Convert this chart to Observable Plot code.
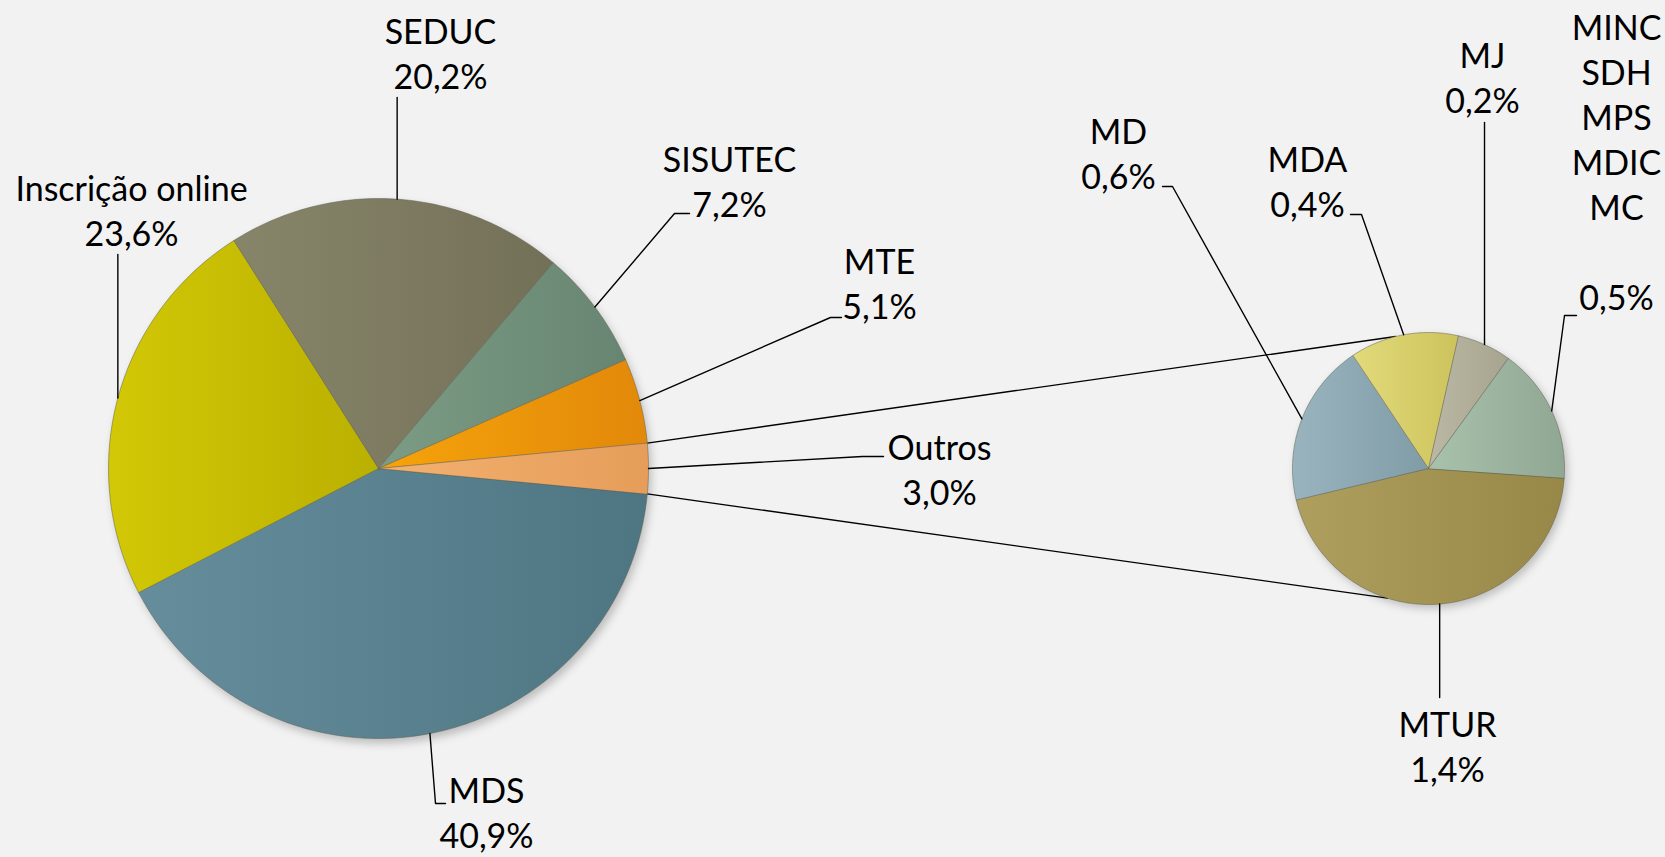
<!DOCTYPE html>
<html>
<head>
<meta charset="utf-8">
<script src="https://cdn.jsdelivr.net/npm/d3@7"></script>
<script src="https://cdn.jsdelivr.net/npm/@observablehq/plot@0.6"></script>
<style>
  html, body { margin: 0; padding: 0; background: #f2f2f2; }
  #chart svg { display: block; }
</style>
</head>
<body>
<div id="chart"></div>
<script>
// ---------- DATA ----------
const mainCategories = ["MDS", "Inscrição online", "SEDUC", "SISUTEC", "MTE", "Outros"];
const mainValues = [40.9, 23.6, 20.2, 7.2, 5.1, 3.0];
const otherCategories = ["MTUR", "MD", "MDA", "MJ", "MINC\nSDH\nMPS\nMDIC\nMC"];
const otherValues = [1.4, 0.6, 0.4, 0.2, 0.5];

// ---------- STYLE (colour pairs: light left -> dark right) ----------
const mainColors = [["#658d9b", "#4e7582"], ["#d2c806", "#bab000"], ["#878569", "#737058"],
                    ["#7c9c86", "#678570"], ["#f6a30b", "#e2890a"], ["#f3b170", "#e69d5a"]];
const otherColors = [["#ae9f5e", "#978848"], ["#99b4be", "#809ca7"], ["#e2da7a", "#cdc35d"],
                     ["#bbb9a5", "#a6a38e"], ["#a9c2ac", "#90a793"]];

// ---------- LAYOUT ----------
const W = 1665, H = 857;
const mainPie = {cx: 378, cy: 468, r: 270, start: 95.4};
const otherPie = {cx: 1428, cy: 468, r: 136, start: 94};
// label block centres and leader-line elbows (null x => vertical from slice)
const mainLayout = [
  {x: 486, y: 811, path: [[435, 803], [445, 803]]},
  {x: 131, y: 209, path: [[null, 254]]},
  {x: 440, y: 52,  path: [[null, 97]]},
  {x: 729, y: 180, path: [[674, 213], [689, 213]]},
  {x: 879, y: 282, path: [[830, 317], [841, 317]]},
  {x: 939, y: 468, path: [[862, 456], [883, 456]]}
];
const otherLayout = [
  {x: 1447, y: 745, path: [[null, 697]]},
  {x: 1118, y: 152, path: [[1172, 186], [1162, 186]]},
  {x: 1307, y: 180, path: [[1361, 214], [1350, 214]]},
  {x: 1482, y: 76,  path: [[null, 122]]},
  {x: 1616, y: 160, path: [[1564, 315], [1576, 315]], gap: true}
];
const seriesLineAngles = [346, 197.6]; // where the connector lines meet the second pie

// ---------- GEOMETRY ----------
const fmt = v => d3.format(".1f")(v).replace(".", ",") + "%";
const rad = a => a * Math.PI / 180;
const pt = (p, a, r = p.r) => [p.cx + r * Math.sin(rad(a)), p.cy - r * Math.cos(rad(a))];

function buildPie(cats, vals, pie, layout, prefix) {
  const total = d3.sum(vals);
  let a = pie.start;
  const slices = [], leaders = [], labels = [];
  cats.forEach((c, i) => {
    const span = vals[i] / total * 360;
    const a0 = a, a1 = a + span, mid = a + span / 2;
    const pts = [{x: pie.cx, y: pie.cy}];
    const n = Math.max(4, Math.ceil(span));
    for (let k = 0; k <= n; k++) {
      const [x, y] = pt(pie, a0 + span * k / n);
      pts.push({x, y});
    }
    slices.push({id: prefix + i, pts, a0, a1});
    const [sx, sy] = pt(pie, mid);
    const L = layout[i];
    const line = [{x: sx, y: sy, k: prefix + i}];
    L.path.forEach(([x, y]) => line.push({x: x == null ? sx : x, y, k: prefix + i}));
    leaders.push(...line);
    labels.push({x: L.x, y: L.y, text: c + (L.gap ? "\n\u00a0" : "") + "\n" + fmt(vals[i])});
    a = a1;
  });
  return {slices, leaders, labels};
}

const main = buildPie(mainCategories, mainValues, mainPie, mainLayout, "m");
const other = buildPie(otherCategories, otherValues, otherPie, otherLayout, "o");

// connector lines: edges of "Outros" slice -> second pie
const outros = main.slices[main.slices.length - 1];
const [tx0, ty0] = pt(mainPie, outros.a0);
const [bx0, by0] = pt(mainPie, outros.a1);
const [tx1, ty1] = pt(otherPie, seriesLineAngles[0]);
const [bx1, by1] = pt(otherPie, seriesLineAngles[1]);
const connectors = [
  {x: tx0, y: ty0, k: "top"}, {x: tx1, y: ty1, k: "top"},
  {x: bx0, y: by0, k: "bot"}, {x: bx1, y: by1, k: "bot"}
];

const allColors = [...mainColors, ...otherColors];
const allSlices = [...main.slices, ...other.slices];

const sliceMarks = allSlices.map((s, i) =>
  Plot.line(s.pts, {x: "x", y: "y", curve: "linear-closed",
    fill: `url(#grad-${s.id})`, stroke: "#5d5d50", strokeOpacity: 0.55, strokeWidth: 0.9})
);

const font = "Lato, 'Open Sans', sans-serif";

const chart = Plot.plot({
  width: W, height: H, margin: 0,
  x: {domain: [0, W], range: [0, W], axis: null},
  y: {domain: [0, H], range: [0, H], axis: null},
  style: {background: "#f2f2f2", fontFamily: font},
  marks: [
    Plot.dot([{x: mainPie.cx + 3, y: mainPie.cy + 5}], {x: "x", y: "y", r: mainPie.r, fill: "#000", fillOpacity: 0.22, stroke: null}),
    Plot.dot([{x: otherPie.cx + 3, y: otherPie.cy + 4}], {x: "x", y: "y", r: otherPie.r, fill: "#000", fillOpacity: 0.22, stroke: null}),
    Plot.line(connectors, {x: "x", y: "y", z: "k", stroke: "#000", strokeWidth: 1.4}),
    ...sliceMarks,
    Plot.line([...main.leaders, ...other.leaders], {x: "x", y: "y", z: "k", stroke: "#000", strokeWidth: 1.4}),
    Plot.text([...main.labels, ...other.labels], {x: "x", y: "y", text: "text",
      fontSize: 34, lineHeight: 1.32, textAnchor: "middle", lineAnchor: "middle",
      fill: "#000", fontFamily: font})
  ]
});

// gradients + soft shadow
const defs = [`<filter id="soft" x="-10%" y="-10%" width="120%" height="120%"><feGaussianBlur stdDeviation="4"/></filter>`];
allSlices.forEach((s, i) => {
  const [c0, c1] = allColors[i];
  defs.push(`<linearGradient id="grad-${s.id}" x1="0" y1="0" x2="1" y2="0"><stop offset="0" stop-color="${c0}"/><stop offset="1" stop-color="${c1}"/></linearGradient>`);
});
chart.insertAdjacentHTML("afterbegin", `<defs>${defs.join("")}</defs>`);
chart.querySelectorAll('g[aria-label="dot"]').forEach(g => g.setAttribute("filter", "url(#soft)"));

document.getElementById("chart").appendChild(chart);
</script>
</body>
</html>
